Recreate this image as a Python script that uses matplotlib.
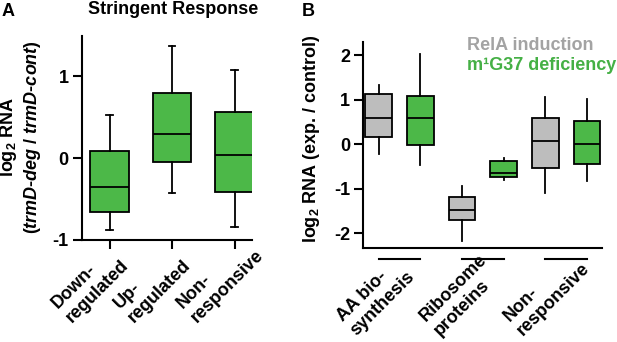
import matplotlib
matplotlib.use("Agg")
import matplotlib.pyplot as plt
import matplotlib.transforms as mtransforms

plt.rcParams['font.family'] = 'Liberation Sans'
plt.rcParams['font.weight'] = 'bold'
plt.rcParams['axes.unicode_minus'] = False
plt.rcParams['mathtext.fontset'] = 'custom'
plt.rcParams['mathtext.rm'] = 'Liberation Sans:bold'
plt.rcParams['mathtext.it'] = 'Liberation Sans:bold:italic'
plt.rcParams['mathtext.bf'] = 'Liberation Sans:bold'

GREEN = '#4cb848'
GRAY = '#bdbdbd'
FS = 13

# panel A: stringent response
a_labels = ['Down-\nregulated', 'Up-\nregulated', 'Non-\nresponsive']
a_lo = [-0.88, -0.43, -0.84]
a_q1 = [-0.66, -0.045, -0.42]
a_med = [-0.35, 0.29, 0.04]
a_q3 = [0.085, 0.79, 0.56]
a_hi = [0.53, 1.37, 1.07]

# panel B: RelA induction vs m1G37 deficiency
b_labels = ['AA bio-\nsynthesis', 'Ribosome\nproteins', 'Non-\nresponsive']
rela_lo = [-0.22, -2.19, -1.09]
rela_q1 = [0.17, -1.70, -0.53]
rela_med = [0.58, -1.48, 0.07]
rela_q3 = [1.12, -1.19, 0.58]
rela_hi = [1.34, -0.94, 1.05]
m1g_lo = [-0.48, -0.81, -0.83]
m1g_q1 = [-0.03, -0.73, -0.45]
m1g_med = [0.58, -0.65, 0.01]
m1g_q3 = [1.09, -0.39, 0.53]
m1g_hi = [2.02, -0.31, 1.02]


def stats(lo, q1, med, q3, hi):
    return [dict(whislo=a, q1=b, med=c, q3=d, whishi=e, fliers=[])
            for a, b, c, d, e in zip(lo, q1, med, q3, hi)]


def style(color):
    lw = 1.3
    return dict(patch_artist=True,
                boxprops=dict(facecolor=color, edgecolor='black', linewidth=lw),
                medianprops=dict(color='black', linewidth=lw),
                whiskerprops=dict(color='black', linewidth=lw),
                capprops=dict(color='black', linewidth=lw))


def clean(a):
    for s in ['top', 'right']:
        a.spines[s].set_visible(False)
    for s in ['left', 'bottom']:
        a.spines[s].set_linewidth(1.5)
    a.tick_params(width=1.5, length=6.5, pad=3, labelsize=FS)


fig = plt.figure(figsize=(6.17, 3.42), dpi=100)

# ---- A ----
ax = fig.add_axes([82/617, 1-240/342, 170/617, 204/342])
ax.bxp(stats(a_lo, a_q1, a_med, a_q3, a_hi), positions=[0, 1, 2], widths=0.61,
       capwidths=0.11, **style(GREEN))
ax.set_xlim(-0.44, 2.28)
ax.set_ylim(-1, 1.49)
ax.set_yticks([-1, 0, 1])
ax.set_xticks([0, 1, 2])
ax.set_xticklabels([])
clean(ax)
off = mtransforms.offset_copy(ax.get_xaxis_transform(), fig=fig, x=-35, y=-86, units='dots')
for i, lab in enumerate(a_labels):
    ax.text(i, 0, lab, transform=off, rotation=45, ha='left', va='bottom',
            rotation_mode='anchor', multialignment='left', fontsize=FS)
fig.text(21/617, 1-137/342,
         'log$_2$ RNA\n($\\mathit{trmD}$-$\\mathit{deg}$ / $\\mathit{trmD}$-$\\mathit{cont}$)',
         rotation=90, ha='center', va='center', multialignment='center', fontsize=FS)
fig.text(173/617, 1-14/342, 'Stringent Response', fontsize=FS, ha='center', va='baseline')
fig.text(2/617, 1-16/342, 'A', fontsize=FS, va='baseline')

# ---- B ----
bx = fig.add_axes([363.3/617, 1-247.7/342, 238.7/617, 205.4/342])
pos = [0, 1, 2]
bx.bxp(stats(rela_lo, rela_q1, rela_med, rela_q3, rela_hi),
       positions=[p - 0.25 for p in pos], widths=0.32, capwidths=0, **style(GRAY))
bx.bxp(stats(m1g_lo, m1g_q1, m1g_med, m1g_q3, m1g_hi),
       positions=[p + 0.25 for p in pos], widths=0.32, capwidths=0, **style(GREEN))
bx.set_xlim(-0.435, 2.43)
bx.set_ylim(-2.33, 2.29)
bx.set_yticks([-2, -1, 0, 1, 2])
bx.set_xticks([])
clean(bx)
fig.text(311/617, 1-139/342, 'log$_2$ RNA (exp. / control)', rotation=90,
         ha='center', va='center', fontsize=FS)
tr = bx.get_xaxis_transform()
for p in pos:
    bx.plot([p - 0.25, p + 0.25], [-0.055, -0.055], color='black', lw=1.5,
            transform=tr, clip_on=False)
offb = mtransforms.offset_copy(tr, fig=fig, x=-40, y=-91, units='dots')
for p, lab in zip(pos, b_labels):
    bx.text(p, 0, lab, transform=offb, rotation=45, ha='left', va='bottom',
            rotation_mode='anchor', multialignment='left', fontsize=FS)
bx.text(0.433, 0.9625, 'RelA induction', transform=bx.transAxes, color='#a3a3a3',
        fontsize=FS, va='baseline')
bx.text(0.433, 0.865, 'm\u00b9G37 deficiency', transform=bx.transAxes, color='#45b045',
        fontsize=FS, va='baseline')
fig.text(302/617, 1-16/342, 'B', fontsize=FS, va='baseline')

fig.savefig('out.png', dpi=100)
